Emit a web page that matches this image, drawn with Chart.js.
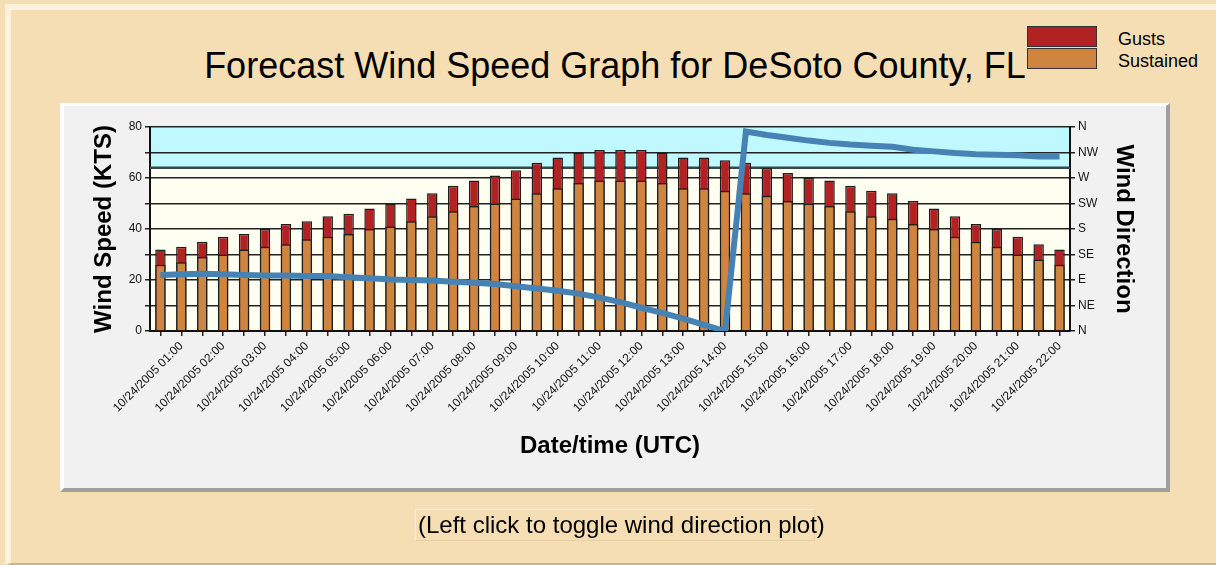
<!DOCTYPE html>
<html>
<head>
<meta charset="utf-8">
<title>Forecast Wind Speed Graph</title>
<script src="https://cdn.jsdelivr.net/npm/chart.js@4.4.1/dist/chart.umd.min.js"></script>
<style>
  body { margin: 0; background: #f5deb3; font-family: "Liberation Sans", Arial, sans-serif; }
  #page { position: relative; width: 1216px; height: 565px; overflow: hidden; }
  #frame { position: absolute; left: 5px; top: 4px; width: 1240px; height: 553px;
           border-left: 6px solid #fdf0dc; border-top: 6px solid #fdf0dc; border-bottom: 2px solid #c9b48c; }
  #panel { position: absolute; left: 60px; top: 103px; width: 1110px; height: 389px; box-sizing: border-box;
           background: #f1f1f1; border-left: 4px solid #fff; border-top: 3px solid #fff;
           border-right: 4px solid #a0a0a0; border-bottom: 4px solid #a0a0a0; }
  #title { position: absolute; left: 60px; top: 44px; width: 1110px; text-align: center;
           font-size: 36px; line-height: 44px; color: #000; }
  .legbox { position: absolute; left: 1027px; width: 68px; height: 19px; border: 1px solid #333; }
  .legtxt { position: absolute; left: 1118px; font-size: 18px; line-height: 20px; color: #000; }
  #toggle { position: absolute; left: 415px; top: 509px; width: 396px; height: 30px; white-space: nowrap;
            border: 1px solid #e6cfa4; border-top-color: #fcefd8; border-left-color: #fcefd8;
            font-size: 24px; line-height: 30px; padding-left: 2px; color: #000; }
  #chartWind { position: absolute; left: 0; top: 0; }
</style>
</head>
<body>
<div id="page">
  <div id="frame"></div>
  <div id="panel"></div>
  <div id="title">Forecast Wind Speed Graph for DeSoto County, FL</div>
  <div class="legbox" style="top:26px;background:#b22222"></div>
  <div class="legbox" style="top:48px;background:#cd853f"></div>
  <div class="legtxt" style="top:29px">Gusts</div>
  <div class="legtxt" style="top:51px">Sustained</div>
  <canvas id="chartWind" width="1216" height="565"></canvas>
  <div id="toggle">(Left click to toggle wind direction plot)</div>
</div>
<script>
// half hourly forecast, 10/24/2005 (UTC)
var times = [
  '10/24/2005 00:30', '10/24/2005 01:00', '10/24/2005 01:30', '10/24/2005 02:00',
  '10/24/2005 02:30', '10/24/2005 03:00', '10/24/2005 03:30', '10/24/2005 04:00',
  '10/24/2005 04:30', '10/24/2005 05:00', '10/24/2005 05:30', '10/24/2005 06:00',
  '10/24/2005 06:30', '10/24/2005 07:00', '10/24/2005 07:30', '10/24/2005 08:00',
  '10/24/2005 08:30', '10/24/2005 09:00', '10/24/2005 09:30', '10/24/2005 10:00',
  '10/24/2005 10:30', '10/24/2005 11:00', '10/24/2005 11:30', '10/24/2005 12:00',
  '10/24/2005 12:30', '10/24/2005 13:00', '10/24/2005 13:30', '10/24/2005 14:00',
  '10/24/2005 14:30', '10/24/2005 15:00', '10/24/2005 15:30', '10/24/2005 16:00',
  '10/24/2005 16:30', '10/24/2005 17:00', '10/24/2005 17:30', '10/24/2005 18:00',
  '10/24/2005 18:30', '10/24/2005 19:00', '10/24/2005 19:30', '10/24/2005 20:00',
  '10/24/2005 20:30', '10/24/2005 21:00', '10/24/2005 21:30', '10/24/2005 22:00'
];

// knots
var gusts = [32, 33, 35, 37, 38, 40, 42, 43, 45, 46, 48, 50, 52, 54, 57, 59, 61, 63, 66, 68, 70, 71,
             71, 71, 70, 68, 68, 67, 66, 64, 62, 60, 59, 57, 55, 54, 51, 48, 45, 42, 40, 37, 34, 32];
var sustained = [26, 27, 29, 30, 32, 33, 34, 36, 37, 38, 40, 41, 43, 45, 47, 49, 50, 52, 54, 56, 58, 59,
                 59, 59, 58, 56, 56, 55, 54, 53, 51, 50, 49, 47, 45, 44, 42, 40, 37, 35, 33, 30, 28, 26];

// degrees
var direction = [99, 100, 101, 100, 99, 98, 98, 97, 97, 95, 93, 91, 90, 89, 87, 85, 83, 79, 75, 71, 66, 59,
                 51, 41, 32, 22, 11, 0, 352, 346, 341, 336, 332, 329, 327, 325, 320, 317, 314, 312, 311, 310, 308, 308];

var compass = ['N', 'NE', 'E', 'SE', 'S', 'SW', 'W', 'NW', 'N'];

var hurricaneKts = 64;

// background bands: yellow below hurricane force, cyan above
var bands = {
  id: 'bands',
  beforeDraw: function(chart) {
    var c = chart.ctx, a = chart.chartArea, y = chart.scales.y;
    var yh = y.getPixelForValue(hurricaneKts);
    c.save();
    c.fillStyle = '#fefff0';
    c.fillRect(a.left, yh, a.right - a.left, a.bottom - yh);
    c.fillStyle = '#c0f8ff';
    c.fillRect(a.left, a.top, a.right - a.left, yh - a.top);
    c.restore();
  },
  beforeDatasetsDraw: function(chart) {
    var c = chart.ctx, a = chart.chartArea;
    var yh = chart.scales.y.getPixelForValue(hurricaneKts);
    c.save();
    c.strokeStyle = '#34494b';
    c.lineWidth = 2.5;
    c.beginPath();
    c.moveTo(a.left, yh);
    c.lineTo(a.right, yh);
    c.stroke();
    c.restore();
  }
};

var tickFont = { family: 'Liberation Sans, Arial, sans-serif', size: 12 };
var axisFont = { family: 'Liberation Sans, Arial, sans-serif', size: 24, weight: 'bold' };

var ctx = document.getElementById('chartWind');
var chartWind = new Chart(ctx, {
  type: 'bar',
  data: {
    labels: times,
    datasets: [{
      type: 'line',
      label: 'Direction',
      data: direction,
      yAxisID: 'y2',
      borderColor: '#4682b4',
      borderWidth: 6,
      pointRadius: 0,
      tension: 0,
      fill: false,
      order: 0
    }, {
      label: 'Sustained',
      data: sustained,
      backgroundColor: '#cd853f',
      borderColor: '#1e1e1e',
      borderWidth: 1.5,
      grouped: false,
      barPercentage: 0.5,
      categoryPercentage: 1,
      order: 1
    }, {
      label: 'Gusts',
      data: gusts,
      backgroundColor: '#b22222',
      borderColor: '#1e1e1e',
      borderWidth: 1.5,
      grouped: false,
      barPercentage: 0.5,
      categoryPercentage: 1,
      order: 2
    }]
  },
  options: {
    responsive: false,
    animation: false,
    layout: { padding: { top: 127, left: 0, right: 0, bottom: 0 } },
    plugins: {
      legend: { display: false },
      title: { display: false },
      tooltip: { enabled: false }
    },
    scales: {
      x: {
        afterFit: function(s) { s.height = 234; },
        grid: { offset: false, drawOnChartArea: false, color: '#222', lineWidth: 1.5, tickLength: 5 },
        border: { display: true, color: '#111', width: 2 },
        ticks: {
          autoSkip: false,
          maxRotation: 45,
          minRotation: 45,
          color: '#111',
          font: tickFont,
          callback: function(v, i) {
            var t = times[i];
            return t.slice(-3) === ':00' ? t : '';
          }
        },
        title: { display: true, text: 'Date/time (UTC)', color: '#000', font: axisFont, padding: { bottom: 104 } }
      },
      y: {
        position: 'left',
        min: 0,
        max: 80,
        afterFit: function(s) { s.width = 150; },
        grid: { color: '#222', lineWidth: 1.5, tickLength: 5 },
        border: { display: true, color: '#111', width: 2 },
        ticks: {
          stepSize: 10,
          color: '#111',
          font: tickFont,
          callback: function(v) { return v % 20 === 0 ? v : ''; }
        },
        title: { display: true, text: 'Wind Speed (KTS)', color: '#000', font: axisFont, padding: { top: 90 } }
      },
      y2: {
        position: 'right',
        min: 0,
        max: 360,
        afterFit: function(s) { s.width = 146; },
        grid: { drawOnChartArea: false, color: '#222', lineWidth: 1.5, tickLength: 5 },
        border: { display: true, color: '#111', width: 2 },
        ticks: {
          stepSize: 45,
          color: '#111',
          font: tickFont,
          callback: function(v) { return compass[v / 45]; }
        },
        title: { display: true, text: 'Wind Direction', color: '#000', font: axisFont, padding: { top: 78 } }
      }
    }
  },
  plugins: [bands]
});
</script>
</body>
</html>
